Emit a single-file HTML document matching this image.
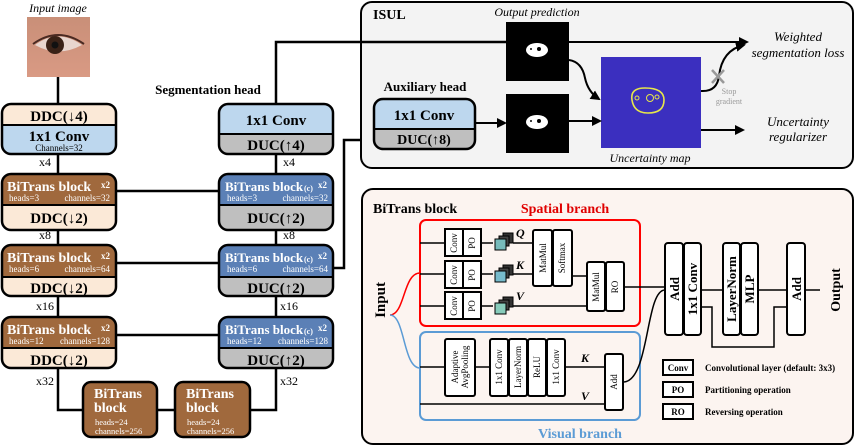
<!DOCTYPE html>
<html><head><meta charset="utf-8"><style>
html,body{margin:0;padding:0;background:#fff;}
svg{display:block;font-family:"Liberation Serif",serif;}
.b{font-weight:bold;}
</style></head><body>
<svg width="856" height="446" viewBox="0 0 856 446" xmlns="http://www.w3.org/2000/svg">
<defs>
<marker id="ar" markerWidth="10" markerHeight="10" refX="8" refY="5" orient="auto" markerUnits="userSpaceOnUse"><path d="M0,0 L10,5 L0,10 z" fill="#000"/></marker>
<linearGradient id="eye" x1="0" y1="0" x2="0" y2="1"><stop offset="0" stop-color="#c98f78"/><stop offset="1" stop-color="#d99a84"/></linearGradient>
</defs>

<text x="58" y="12" font-size="12" font-style="italic" text-anchor="middle">Input image</text>
<rect x="27" y="17" width="63" height="60" fill="url(#eye)"/>
<path d="M35,45 Q58,28 82,45 Q58,58 35,45 z" fill="#e8d6cf"/>
<circle cx="55" cy="45" r="9" fill="#3a2217"/>
<circle cx="55" cy="45" r="3.5" fill="#111"/>
<path d="M33,44 Q58,26 84,44" fill="none" stroke="#4a2a22" stroke-width="2"/>

<g stroke="#000" stroke-width="2.5" fill="none">
<line x1="58" y1="77" x2="58" y2="104"/>
<line x1="58" y1="154" x2="58" y2="174"/>
<line x1="58" y1="230" x2="58" y2="245"/>
<line x1="58" y1="296" x2="58" y2="317"/>
<polyline points="58,368 58,410 83,410"/>
<line x1="157" y1="410" x2="175" y2="410"/>
<polyline points="250,410 276,410 276,368"/>
<line x1="276" y1="296" x2="276" y2="317"/>
<line x1="276" y1="230" x2="276" y2="245"/>
<line x1="276" y1="154" x2="276" y2="174"/>
<polyline points="276,104 276,42 506,42"/>
<line x1="116" y1="191" x2="219" y2="191"/>
<line x1="116" y1="263" x2="219" y2="263"/>
<line x1="116" y1="335" x2="219" y2="335"/>
<polyline points="333,268 344,268 344,140 374,140"/>
</g>
<g font-size="12" text-anchor="middle">
<text x="45" y="166">x4</text><text x="45" y="239">x8</text><text x="45" y="310">x16</text><text x="45" y="385">x32</text>
<text x="289" y="166">x4</text><text x="289" y="239">x8</text><text x="289" y="310">x16</text><text x="289" y="385">x32</text>
</g>
<text x="208" y="94" font-size="13" class="b" text-anchor="middle">Segmentation head</text>

<g>
<rect x="2" y="104" width="114" height="50" rx="9" fill="#fbe9d7"/>
<rect x="2" y="125" width="114" height="29" rx="9" fill="#bdd7ee"/><rect x="2" y="125" width="114" height="10" fill="#bdd7ee"/>
<line x1="2" y1="125" x2="116" y2="125" stroke="#000" stroke-width="2"/>
<rect x="2" y="104" width="114" height="50" rx="9" fill="none" stroke="#000" stroke-width="2.5"/>
<text x="59" y="121" font-size="15" class="b" text-anchor="middle">DDC(↓4)</text>
<text x="59" y="141" font-size="15" class="b" text-anchor="middle">1x1 Conv</text>
<text x="59" y="151" font-size="9" text-anchor="middle">Channels=32</text>
</g>
<g>
<rect x="2" y="174" width="114" height="56" rx="9" fill="#a0693d"/>
<rect x="2" y="205" width="114" height="25" rx="9" fill="#fbe9d7"/><rect x="2" y="205" width="114" height="10" fill="#fbe9d7"/>
<line x1="2" y1="205" x2="116" y2="205" stroke="#000" stroke-width="2"/>
<rect x="2" y="174" width="114" height="56" rx="9" fill="none" stroke="#000" stroke-width="2.5"/>
<text x="7" y="191" font-size="14" class="b" fill="#fff">BiTrans block</text>
<text x="101" y="188" font-size="9" class="b" fill="#fff">x2</text>
<text x="9" y="201" font-size="9" fill="#fff">heads=3</text>
<text x="110" y="201" font-size="9" fill="#fff" text-anchor="end">channels=32</text>
<text x="59" y="223" font-size="15" class="b" text-anchor="middle">DDC(↓2)</text>
</g>
<g>
<rect x="2" y="245" width="114" height="51" rx="9" fill="#a0693d"/>
<rect x="2" y="277" width="114" height="19" rx="9" fill="#fbe9d7"/><rect x="2" y="277" width="114" height="8" fill="#fbe9d7"/>
<line x1="2" y1="277" x2="116" y2="277" stroke="#000" stroke-width="2"/>
<rect x="2" y="245" width="114" height="51" rx="9" fill="none" stroke="#000" stroke-width="2.5"/>
<text x="7" y="262" font-size="14" class="b" fill="#fff">BiTrans block</text>
<text x="101" y="259" font-size="9" class="b" fill="#fff">x2</text>
<text x="9" y="272" font-size="9" fill="#fff">heads=6</text>
<text x="110" y="272" font-size="9" fill="#fff" text-anchor="end">channels=64</text>
<text x="59" y="293" font-size="15" class="b" text-anchor="middle">DDC(↓2)</text>
</g>
<g>
<rect x="2" y="317" width="114" height="51" rx="9" fill="#a0693d"/>
<rect x="2" y="348" width="114" height="20" rx="9" fill="#fbe9d7"/><rect x="2" y="348" width="114" height="8" fill="#fbe9d7"/>
<line x1="2" y1="348" x2="116" y2="348" stroke="#000" stroke-width="2"/>
<rect x="2" y="317" width="114" height="51" rx="9" fill="none" stroke="#000" stroke-width="2.5"/>
<text x="7" y="334" font-size="14" class="b" fill="#fff">BiTrans block</text>
<text x="101" y="331" font-size="9" class="b" fill="#fff">x2</text>
<text x="9" y="344" font-size="9" fill="#fff">heads=12</text>
<text x="110" y="344" font-size="9" fill="#fff" text-anchor="end">channels=128</text>
<text x="59" y="365" font-size="15" class="b" text-anchor="middle">DDC(↓2)</text>
</g>
<g>
<rect x="83" y="382" width="74" height="55" rx="8" fill="#a0693d" stroke="#000" stroke-width="2.5"/>
<text x="94" y="398" font-size="14" class="b" fill="#fff">BiTrans</text>
<text x="94" y="412" font-size="14" class="b" fill="#fff">block</text>
<text x="95" y="425" font-size="8.5" fill="#fff">heads=24</text>
<text x="95" y="434" font-size="8.5" fill="#fff">channels=256</text>
<rect x="175" y="382" width="75" height="55" rx="8" fill="#a0693d" stroke="#000" stroke-width="2.5"/>
<text x="186" y="398" font-size="14" class="b" fill="#fff">BiTrans</text>
<text x="186" y="412" font-size="14" class="b" fill="#fff">block</text>
<text x="187" y="425" font-size="8.5" fill="#fff">heads=24</text>
<text x="187" y="434" font-size="8.5" fill="#fff">channels=256</text>
</g>

<g>
<rect x="219" y="104" width="114" height="50" rx="9" fill="#bdd7ee"/>
<rect x="219" y="134" width="114" height="20" rx="9" fill="#bfbfbf"/><rect x="219" y="134" width="114" height="8" fill="#bfbfbf"/>
<line x1="219" y1="134" x2="333" y2="134" stroke="#000" stroke-width="2"/>
<rect x="219" y="104" width="114" height="50" rx="9" fill="none" stroke="#000" stroke-width="2.5"/>
<text x="276" y="125" font-size="15" class="b" text-anchor="middle">1x1 Conv</text>
<text x="276" y="150" font-size="15" class="b" text-anchor="middle">DUC(↑4)</text>
</g>
<g>
<rect x="219" y="174" width="114" height="56" rx="9" fill="#5b80b6"/>
<rect x="219" y="205" width="114" height="25" rx="9" fill="#bfbfbf"/><rect x="219" y="205" width="114" height="10" fill="#bfbfbf"/>
<line x1="219" y1="205" x2="333" y2="205" stroke="#000" stroke-width="2"/>
<rect x="219" y="174" width="114" height="56" rx="9" fill="none" stroke="#000" stroke-width="2.5"/>
<text x="225" y="191" font-size="13" class="b" fill="#fff">BiTrans block</text><text x="304" y="191" font-size="8" class="b" fill="#fff">(c)</text>
<text x="318" y="188" font-size="9" class="b" fill="#fff">x2</text>
<text x="227" y="201" font-size="9" fill="#fff">heads=3</text>
<text x="328" y="201" font-size="9" fill="#fff" text-anchor="end">channels=32</text>
<text x="276" y="223" font-size="15" class="b" text-anchor="middle">DUC(↑2)</text>
</g>
<g>
<rect x="219" y="245" width="114" height="51" rx="9" fill="#5b80b6"/>
<rect x="219" y="277" width="114" height="19" rx="9" fill="#bfbfbf"/><rect x="219" y="277" width="114" height="8" fill="#bfbfbf"/>
<line x1="219" y1="277" x2="333" y2="277" stroke="#000" stroke-width="2"/>
<rect x="219" y="245" width="114" height="51" rx="9" fill="none" stroke="#000" stroke-width="2.5"/>
<text x="225" y="262" font-size="13" class="b" fill="#fff">BiTrans block</text><text x="304" y="262" font-size="8" class="b" fill="#fff">(c)</text>
<text x="318" y="259" font-size="9" class="b" fill="#fff">x2</text>
<text x="227" y="272" font-size="9" fill="#fff">heads=6</text>
<text x="328" y="272" font-size="9" fill="#fff" text-anchor="end">channels=64</text>
<text x="276" y="293" font-size="15" class="b" text-anchor="middle">DUC(↑2)</text>
</g>
<g>
<rect x="219" y="317" width="114" height="51" rx="9" fill="#5b80b6"/>
<rect x="219" y="348" width="114" height="20" rx="9" fill="#bfbfbf"/><rect x="219" y="348" width="114" height="8" fill="#bfbfbf"/>
<line x1="219" y1="348" x2="333" y2="348" stroke="#000" stroke-width="2"/>
<rect x="219" y="317" width="114" height="51" rx="9" fill="none" stroke="#000" stroke-width="2.5"/>
<text x="225" y="334" font-size="13" class="b" fill="#fff">BiTrans block</text><text x="304" y="334" font-size="8" class="b" fill="#fff">(c)</text>
<text x="318" y="331" font-size="9" class="b" fill="#fff">x2</text>
<text x="227" y="344" font-size="9" fill="#fff">heads=12</text>
<text x="328" y="344" font-size="9" fill="#fff" text-anchor="end">channels=128</text>
<text x="276" y="365" font-size="15" class="b" text-anchor="middle">DUC(↑2)</text>
</g>

<rect x="361" y="2" width="492" height="166" rx="11" fill="#f3f3f3" stroke="#000" stroke-width="2"/>
<line x1="361" y1="42" x2="506" y2="42" stroke="#000" stroke-width="2.5"/>
<text x="373" y="19" font-size="14" class="b">ISUL</text>
<text x="537" y="16" font-size="12" font-style="italic" text-anchor="middle">Output prediction</text>
<rect x="506" y="22" width="63" height="59" fill="#000"/>
<ellipse cx="537" cy="50" rx="11" ry="7" fill="#fff"/><circle cx="539" cy="49" r="2" fill="#000"/><circle cx="531" cy="49" r="1" fill="#000"/>
<rect x="506" y="94" width="63" height="59" fill="#000"/>
<ellipse cx="537" cy="122" rx="11" ry="7" fill="#fff"/><circle cx="539" cy="121" r="2" fill="#000"/><circle cx="531" cy="121" r="1" fill="#000"/>
<rect x="601" y="57" width="100" height="91" fill="#3b2fbf"/>
<path d="M632,100 Q630,88 645,88 Q664,88 664,100 Q664,113 648,113 Q634,113 632,100 z" fill="none" stroke="#e6e64a" stroke-width="1.6"/>
<circle cx="637" cy="98" r="2" fill="none" stroke="#e6e64a"/><circle cx="650" cy="98" r="3.5" fill="none" stroke="#e6e64a"/><circle cx="657" cy="97" r="2" fill="none" stroke="#e6e64a"/>
<text x="650" y="162" font-size="12" font-style="italic" text-anchor="middle">Uncertainty map</text>
<text x="425" y="91" font-size="13" class="b" text-anchor="middle">Auxiliary head</text>
<rect x="374" y="99" width="101" height="50" rx="9" fill="#bdd7ee"/>
<rect x="374" y="129" width="101" height="20" rx="9" fill="#bfbfbf"/><rect x="374" y="129" width="101" height="8" fill="#bfbfbf"/>
<line x1="374" y1="129" x2="475" y2="129" stroke="#000" stroke-width="2"/>
<rect x="374" y="99" width="101" height="50" rx="9" fill="none" stroke="#000" stroke-width="2.5"/>
<text x="424" y="120" font-size="15" class="b" text-anchor="middle">1x1 Conv</text>
<text x="424" y="144" font-size="14" class="b" text-anchor="middle">DUC(↑8)</text>
<g stroke="#000" stroke-width="2" fill="none">
<line x1="475" y1="123" x2="505" y2="123" marker-end="url(#ar)"/>
<line x1="569" y1="121" x2="600" y2="121" marker-end="url(#ar)"/>
<line x1="569" y1="42" x2="747" y2="42" marker-end="url(#ar)"/>
<path d="M569,60 Q582,62 585,78 Q588,92 599,99" marker-end="url(#ar)"/>
<path d="M701,91 Q717,92 719,76 Q722,50 744,45" marker-end="url(#ar)"/>
<line x1="701" y1="130" x2="743" y2="130" marker-end="url(#ar)"/>
</g>
<g stroke="#999" stroke-width="2.5"><line x1="712" y1="70" x2="724" y2="83"/><line x1="724" y1="70" x2="712" y2="83"/></g>
<text x="729" y="94" font-size="8" fill="#999" text-anchor="middle">Stop</text>
<text x="729" y="104" font-size="8" fill="#999" text-anchor="middle">gradient</text>
<g font-size="13" font-style="italic" text-anchor="middle">
<text x="798" y="41">Weighted</text><text x="798" y="57">segmentation loss</text>
<text x="798" y="126">Uncertainty</text><text x="798" y="141">regularizer</text>
</g>

<rect x="362" y="189" width="491" height="255" rx="11" fill="#fcf4f0" stroke="#000" stroke-width="2"/>
<text x="373" y="213" font-size="14" class="b">BiTrans block</text>
<text x="565" y="213" font-size="14" class="b" fill="#e00000" text-anchor="middle">Spatial branch</text>
<text x="580" y="438" font-size="14" class="b" fill="#5b9bd5" text-anchor="middle">Visual branch</text>
<text transform="translate(385,300) rotate(-90)" font-size="15" class="b" text-anchor="middle">Input</text>
<path d="M390,315 C405,315 403,273 420,273" fill="none" stroke="#f00" stroke-width="1.5"/>
<path d="M390,315 C405,315 403,368 420,368" fill="none" stroke="#5b9bd5" stroke-width="1.5"/>
<rect x="420" y="220" width="220" height="106" rx="6" fill="none" stroke="#f00" stroke-width="2"/>
<rect x="420" y="332" width="220" height="88" rx="6" fill="none" stroke="#5b9bd5" stroke-width="2"/>
<g stroke="#000" stroke-width="1.5" fill="none">
<line x1="420" y1="243" x2="445" y2="243"/><line x1="420" y1="274" x2="445" y2="274"/><line x1="420" y1="306" x2="445" y2="306"/>
<line x1="481" y1="243" x2="493" y2="243"/><line x1="481" y1="274" x2="493" y2="274"/><line x1="481" y1="306" x2="493" y2="306"/>
<line x1="513" y1="243" x2="533" y2="243"/><line x1="513" y1="274" x2="533" y2="274"/>
<line x1="513" y1="306" x2="587" y2="306"/>
<line x1="572" y1="276" x2="587" y2="276"/>
<line x1="624" y1="287" x2="665" y2="287"/>
<line x1="420" y1="367" x2="445" y2="367"/>
<line x1="475" y1="367" x2="490" y2="367"/>
<line x1="565" y1="367" x2="605" y2="367"/>
<line x1="420" y1="404" x2="605" y2="404"/>
<path d="M623,382 C650,382 645,290 665,290"/>
<line x1="701" y1="290" x2="723" y2="290"/>
<line x1="758" y1="290" x2="787" y2="290"/>
<line x1="805" y1="290" x2="820" y2="290"/>
<polyline points="701,307 712,307 712,347 774,347 774,307 787,307"/>
</g>
<g stroke="#000" stroke-width="2" fill="#fff">
<rect x="445" y="229" width="18" height="27"/><rect x="463" y="229" width="18" height="27"/>
<rect x="445" y="261" width="18" height="27"/><rect x="463" y="261" width="18" height="27"/>
<rect x="445" y="292" width="18" height="27"/><rect x="463" y="292" width="18" height="27"/>
<rect x="533" y="230" width="19" height="56" rx="2"/><rect x="553" y="230" width="19" height="56" rx="2"/>
<rect x="587" y="262" width="18" height="49" rx="2"/><rect x="606" y="262" width="18" height="49" rx="2"/>
<rect x="445" y="339" width="30" height="57" rx="2"/>
<rect x="490" y="339" width="18" height="57" rx="2"/><rect x="509" y="339" width="18" height="57" rx="2"/><rect x="528" y="339" width="18" height="57" rx="2"/><rect x="547" y="339" width="18" height="57" rx="2"/>
<rect x="605" y="354" width="18" height="56" rx="2"/>
<rect x="665" y="243" width="18" height="92" rx="3"/><rect x="684" y="243" width="17" height="92" rx="3"/>
<rect x="723" y="243" width="17" height="92" rx="3"/><rect x="741" y="243" width="17" height="92" rx="3"/>
<rect x="787" y="243" width="18" height="92" rx="3"/>
<rect x="663" y="360" width="30" height="15"/><rect x="663" y="382" width="30" height="15"/><rect x="663" y="404" width="30" height="15"/>
</g>
<g stroke="#000" stroke-width="1">
<rect x="503" y="233" width="10" height="10" fill="#333"/><rect x="499" y="236" width="10" height="10" fill="#444"/><rect x="495" y="239" width="11" height="11" fill="#7bb"/>
<rect x="503" y="265" width="10" height="10" fill="#333"/><rect x="499" y="268" width="10" height="10" fill="#444"/><rect x="495" y="271" width="11" height="11" fill="#7bc"/>
<rect x="503" y="297" width="10" height="10" fill="#333"/><rect x="499" y="300" width="10" height="10" fill="#444"/><rect x="495" y="303" width="11" height="11" fill="#8cb"/>
</g>
<g font-size="12" font-style="italic" class="b">
<text x="516" y="237">Q</text><text x="516" y="269">K</text><text x="516" y="300">V</text>
<text x="581" y="362">K</text><text x="581" y="400">V</text>
</g>
<g font-size="9" text-anchor="middle">
<text transform="translate(457,243) rotate(-90)">Conv</text><text transform="translate(475,243) rotate(-90)">PO</text>
<text transform="translate(457,275) rotate(-90)">Conv</text><text transform="translate(475,275) rotate(-90)">PO</text>
<text transform="translate(457,306) rotate(-90)">Conv</text><text transform="translate(475,306) rotate(-90)">PO</text>
<text transform="translate(546,258) rotate(-90)">MatMul</text><text transform="translate(565,258) rotate(-90)">Softmax</text>
<text transform="translate(599,287) rotate(-90)">MatMul</text><text transform="translate(618,287) rotate(-90)">RO</text>
<text transform="translate(458,367) rotate(-90)">Adaptive</text><text transform="translate(468,367) rotate(-90)">AvgPooling</text>
<text transform="translate(502,367) rotate(-90)">1x1 Conv</text><text transform="translate(521,367) rotate(-90)">LayerNorm</text>
<text transform="translate(540,367) rotate(-90)">ReLU</text><text transform="translate(559,367) rotate(-90)">1x1 Conv</text>
<text transform="translate(617,382) rotate(-90)">Add</text>
</g>
<g font-size="13" class="b" text-anchor="middle">
<text transform="translate(679,289) rotate(-90)">Add</text><text transform="translate(697,289) rotate(-90)">1x1 Conv</text>
<text transform="translate(736,289) rotate(-90)">LayerNorm</text><text transform="translate(754,289) rotate(-90)">MLP</text>
<text transform="translate(801,289) rotate(-90)">Add</text>
<text transform="translate(840,290) rotate(-90)" font-size="14">Output</text>
</g>
<g font-size="9" class="b">
<text x="678" y="371" text-anchor="middle">Conv</text><text x="678" y="393" text-anchor="middle">PO</text><text x="678" y="415" text-anchor="middle">RO</text>
<text x="705" y="371">Convolutional layer (default: 3x3)</text>
<text x="705" y="393">Partitioning operation</text>
<text x="705" y="415">Reversing operation</text>
</g>
</svg>
</body></html>
